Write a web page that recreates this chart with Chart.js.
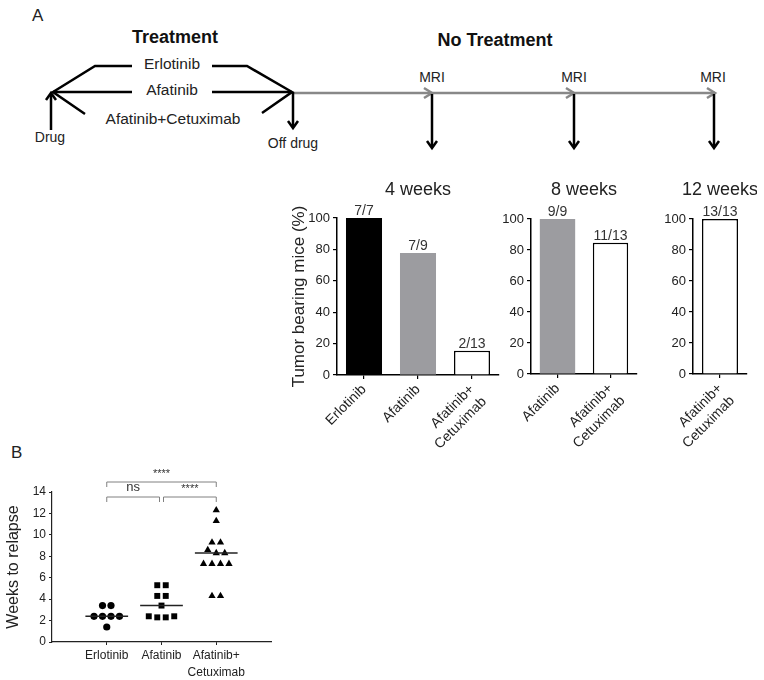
<!DOCTYPE html>
<html>
<head>
<meta charset="utf-8">
<script src="https://cdn.jsdelivr.net/npm/chart.js@4.4.1/dist/chart.umd.min.js"></script>
<style>
  body { margin: 0; background: #fff; }
  #page { position: relative; width: 764px; height: 680px; font-family: "Liberation Sans", Arial, sans-serif; color: #222; }
  canvas, svg, .tag { position: absolute; }
  .tag { font-size: 17px; }
</style>
</head>
<body>
<div id="page">
  <svg id="scheme" width="764" height="160" style="left:0;top:0" font-family="Liberation Sans, Arial, sans-serif">
    <text x="32" y="21" font-size="17" fill="#222">A</text>
    <text x="175" y="43" font-size="18" font-weight="bold" text-anchor="middle" fill="#111">Treatment</text>
    <text x="495" y="46" font-size="18" font-weight="bold" text-anchor="middle" fill="#111">No Treatment</text>
    <!-- timeline after treatment -->
    <line x1="292" y1="93" x2="715" y2="93" stroke="#888" stroke-width="2.5"/>
    <g fill="none" stroke="#888" stroke-width="2.5">
      <polyline points="424,88 432,93 424,98"/>
      <polyline points="566,88 574,93 566,98"/>
      <polyline points="707,88 715,93 707,98"/>
    </g>
    <!-- treatment arms -->
    <g fill="none" stroke="#000" stroke-width="2.5">
      <polyline points="132,66 95,66 53,92 85,114"/>
      <line x1="53" y1="92" x2="132" y2="92"/>
      <polyline points="212,66 247,66 292,92 262,113"/>
      <line x1="212" y1="92" x2="292" y2="92"/>
      <line x1="51" y1="130" x2="51" y2="94"/>
      <polyline points="46,100 51,93 56,100"/>
      <line x1="293" y1="92" x2="293" y2="127"/>
      <polyline points="288,121 293,128 298,121"/>
      <line x1="432" y1="94" x2="432" y2="147"/>
      <polyline points="427,141 432,148 437,141"/>
      <line x1="574" y1="94" x2="574" y2="147"/>
      <polyline points="569,141 574,148 579,141"/>
      <line x1="714" y1="94" x2="714" y2="147"/>
      <polyline points="709,141 714,148 719,141"/>
    </g>
    <g font-size="15.5" text-anchor="middle" fill="#222">
      <text x="172" y="69">Erlotinib</text>
      <text x="172" y="95">Afatinib</text>
      <text x="173" y="124">Afatinib+Cetuximab</text>
    </g>
    <g font-size="14" text-anchor="middle" fill="#222">
      <text x="50" y="142">Drug</text>
      <text x="293" y="148">Off drug</text>
      <text x="432" y="82">MRI</text>
      <text x="574" y="82">MRI</text>
      <text x="713" y="82">MRI</text>
    </g>
  </svg>
  <canvas id="wk4" width="224" height="290" style="left:285px;top:170px"></canvas>
  <canvas id="wk8" width="147" height="289" style="left:500px;top:170px"></canvas>
  <canvas id="wk12" width="97" height="289" style="left:660px;top:170px"></canvas>
  <div class="tag" style="left:11px;top:443px">B</div>
  <canvas id="relapse" width="281" height="240" style="left:0;top:440px"></canvas>
</div>
<script>
// tumor bearing mice at each MRI (count / group size)
const wk4Groups = ['Erlotinib', 'Afatinib', 'Afatinib+Cetuximab'];
const wk4Tumor = [7, 7, 2];
const wk4Total = [7, 9, 13];

const wk8Groups = ['Afatinib', 'Afatinib+Cetuximab'];
const wk8Tumor = [9, 11];
const wk8Total = [9, 13];

const wk12Groups = ['Afatinib+Cetuximab'];
const wk12Tumor = [13];
const wk12Total = [13];

// weeks to relapse, per mouse (top to bottom, left to right)
const relapseGroups = ['Erlotinib', 'Afatinib', 'Afatinib+Cetuximab'];
const relapseErlotinib = [3.4, 3.4, 2.4, 2.4, 2.4, 2.4, 1.4];
const relapseAfatinib = [5.3, 5.3, 4.3, 4.3, 3.4, 2.4, 2.3, 2.3, 2.4];
const relapseCombo = [12.3, 11.3, 9.3, 9.3, 8.6, 8.3, 8.3, 7.3, 7.3, 7.3, 7.3, 4.3, 4.3];

// significance brackets: group a to group b
const sigFrom = [1, 1, 2];
const sigTo = [3, 2, 3];
const sigText = ['****', 'ns', '****'];

const FONT = '"Liberation Sans", Arial, sans-serif';
Chart.defaults.font.family = FONT;
Chart.defaults.color = '#222';
Chart.defaults.animation = false;

const fill = { 'Erlotinib': '#000', 'Afatinib': '#9c9ca0', 'Afatinib+Cetuximab': '#fff' };

function lines(name) {
  return name === 'Afatinib+Cetuximab' ? ['Afatinib+', 'Cetuximab'] : name;
}

const panelTitle = {
  id: 'panelTitle',
  afterDraw(chart, args, opts) {
    const { ctx, chartArea } = chart;
    ctx.save();
    ctx.font = '18px ' + FONT;
    ctx.fillStyle = '#222';
    ctx.textAlign = 'center';
    ctx.textBaseline = 'middle';
    ctx.fillText(opts.text, (chartArea.left + chartArea.right) / 2, opts.y);
    ctx.restore();
  }
};

const fractions = {
  id: 'fractions',
  afterDatasetsDraw(chart, args, opts) {
    const { ctx } = chart;
    ctx.save();
    ctx.font = '14px ' + FONT;
    ctx.fillStyle = '#333';
    ctx.textAlign = 'center';
    ctx.textBaseline = 'bottom';
    chart.getDatasetMeta(0).data.forEach((bar, i) => {
      ctx.fillText(opts.text[i], bar.x, bar.y);
    });
    ctx.restore();
  }
};

function makeBars(id, title, groups, tumor, total, yWidth, padTop, yTitle) {
  const pct = tumor.map((t, i) => t / total[i] * 100);
  new Chart(document.getElementById(id), {
    type: 'bar',
    data: {
      labels: groups.map(lines),
      datasets: [{
        data: pct,
        backgroundColor: groups.map(g => fill[g]),
        borderColor: groups.map(g => fill[g] === '#fff' ? '#000' : fill[g]),
        borderWidth: groups.map(g => fill[g] === '#fff' ? 1.5 : 0),
        barPercentage: 0.667,
        categoryPercentage: 1
      }]
    },
    options: {
      responsive: false,
      layout: { padding: { top: padTop, right: 10, left: 0, bottom: 0 } },
      plugins: {
        legend: { display: false },
        tooltip: { enabled: false },
        panelTitle: { text: title, y: 20 },
        fractions: { text: tumor.map((t, i) => t + '/' + total[i]) }
      },
      scales: {
        x: {
          grid: { display: true, drawOnChartArea: false, offset: false, tickLength: 4, color: '#000', lineWidth: 1.2 },
          border: { color: '#000', width: 1.5 },
          ticks: { minRotation: 45, maxRotation: 45, autoSkip: false, font: { size: 14, lineHeight: 1.25 }, padding: 2 },
          afterFit(s) { s.height = 85; s.paddingLeft = 0; s.paddingRight = 0; }
        },
        y: {
          min: 0, max: 100,
          ticks: { stepSize: 20, font: { size: 13 }, padding: 3 },
          grid: { display: true, drawOnChartArea: false, tickLength: 4, color: '#000', lineWidth: 1.2 },
          border: { color: '#000', width: 1.5 },
          title: { display: !!yTitle, text: yTitle || '', font: { size: 17 }, padding: { top: 4, bottom: 0 } },
          afterFit(s) { s.width = yWidth; s.paddingTop = 0; s.paddingBottom = 0; }
        }
      }
    },
    plugins: [panelTitle, fractions]
  });
}

makeBars('wk4', '4 weeks', wk4Groups, wk4Tumor, wk4Total, 52, 48, 'Tumor bearing mice (%)');
makeBars('wk8', '8 weeks', wk8Groups, wk8Tumor, wk8Total, 31, 49, null);
makeBars('wk12', '12 weeks', wk12Groups, wk12Tumor, wk12Total, 33, 49, null);

// dot plot: spread points that sit on about the same level side by side
function swarm(values, center, step) {
  const pts = [];
  let i = 0;
  while (i < values.length) {
    let j = i;
    while (j < values.length && Math.abs(values[j] - values[i]) < 0.4) j++;
    const n = j - i;
    for (let k = 0; k < n; k++) pts.push({ x: center + (k - (n - 1) / 2) * step, y: values[i + k] });
    i = j;
  }
  return pts;
}

function median(values) {
  const s = [...values].sort((a, b) => a - b);
  const m = Math.floor(s.length / 2);
  return s.length % 2 ? s[m] : (s[m - 1] + s[m]) / 2;
}

const relapseData = [relapseErlotinib, relapseAfatinib, relapseCombo];
const shapes = ['circle', 'rect', 'triangle'];
const radii = [3.6, 4.2, 4.2];

const dotSets = relapseData.map((vals, i) => ({
  data: swarm(vals, i + 1, 0.155),
  pointStyle: shapes[i],
  pointRadius: radii[i],
  backgroundColor: '#000',
  borderColor: '#000',
  borderWidth: 0
}));
const medianSets = relapseData.map((vals, i) => {
  const m = median(vals);
  return {
    data: [{ x: i + 1 - 0.39, y: m }, { x: i + 1 + 0.39, y: m }],
    showLine: true,
    pointRadius: 0,
    borderColor: '#222',
    borderWidth: 1.5
  };
});

const brackets = {
  id: 'brackets',
  afterDraw(chart) {
    const { ctx, scales: { x } } = chart;
    const top = chart.chartArea.top;
    const rowY = [top - 10, top + 5, top + 5];
    ctx.save();
    ctx.strokeStyle = '#808080';
    ctx.lineWidth = 1;
    ctx.fillStyle = '#333';
    ctx.textAlign = 'center';
    ctx.textBaseline = 'bottom';
    sigFrom.forEach((a, i) => {
      const x1 = x.getPixelForValue(a) + (a === 2 ? 2 : 0);
      const x2 = x.getPixelForValue(sigTo[i]) - (sigTo[i] === 2 ? 2 : 0);
      const y = rowY[i];
      ctx.beginPath();
      ctx.moveTo(x1, y + 5);
      ctx.lineTo(x1, y);
      ctx.lineTo(x2, y);
      ctx.lineTo(x2, y + 5);
      ctx.stroke();
      ctx.font = (sigText[i] === 'ns' ? '13px ' : '11px ') + FONT;
      ctx.fillText(sigText[i], (x1 + x2) / 2, y - 3);
    });
    ctx.restore();
  }
};

new Chart(document.getElementById('relapse'), {
  type: 'scatter',
  data: { datasets: [...medianSets, ...dotSets] },
  options: {
    responsive: false,
    layout: { padding: { top: 52, right: 10, left: 0, bottom: 0 } },
    plugins: { legend: { display: false }, tooltip: { enabled: false } },
    scales: {
      x: {
        type: 'linear', min: 0, max: 4,
        afterBuildTicks(s) { s.ticks = relapseGroups.map((g, i) => ({ value: i + 1 })); },
        ticks: { callback: v => lines(relapseGroups[v - 1]), font: { size: 12, lineHeight: 1.4 }, padding: 2 },
        grid: { display: true, drawOnChartArea: false, tickLength: 3, color: '#222' },
        border: { color: '#222', width: 1.2 },
        afterFit(s) { s.height = 38; s.paddingLeft = 0; s.paddingRight = 0; }
      },
      y: {
        min: 0, max: 14,
        ticks: { stepSize: 2, font: { size: 12 }, padding: 3 },
        grid: { display: true, drawOnChartArea: false, tickLength: 3, color: '#222' },
        border: { color: '#222', width: 1.2 },
        title: { display: true, text: 'Weeks to relapse', font: { size: 16 }, padding: { top: 4, bottom: 0 } },
        afterFit(s) { s.width = 52; s.paddingTop = 0; s.paddingBottom = 0; }
      }
    }
  },
  plugins: [brackets]
});
</script>
</body>
</html>
